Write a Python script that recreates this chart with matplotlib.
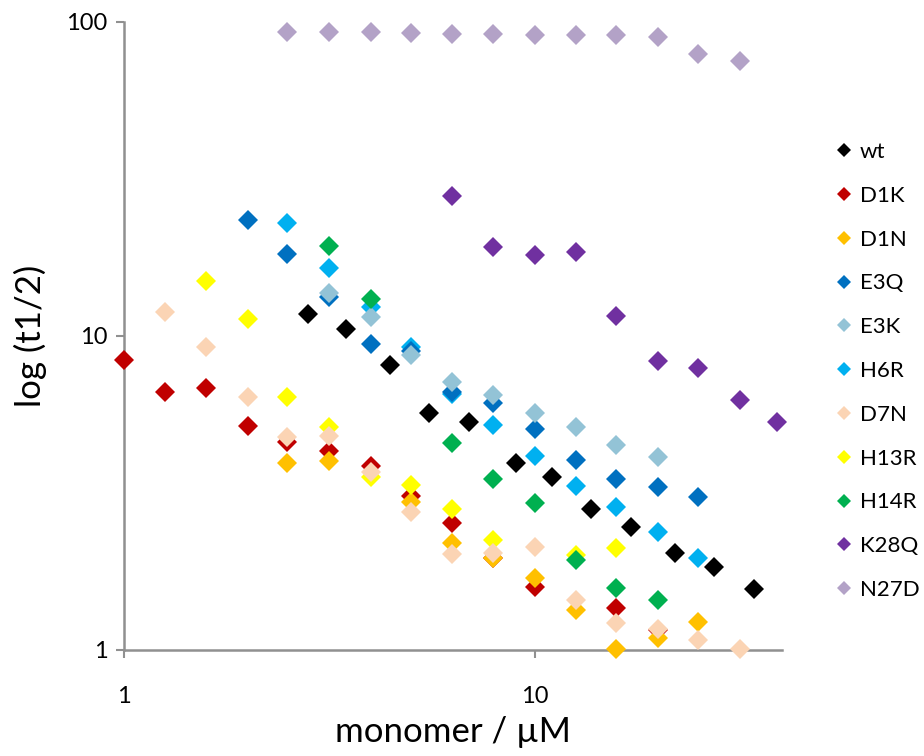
import matplotlib
matplotlib.use("Agg")
import matplotlib.pyplot as plt
from matplotlib.ticker import FixedLocator, FixedFormatter, NullLocator
from matplotlib.lines import Line2D

plt.rcParams['font.family'] = ['Lato', 'DejaVu Sans']

# ---- data (monomer concentration in uM, t1/2) ----
wt_x = [2.8, 3.48, 4.45, 5.53, 6.92, 8.99, 11.0, 13.7, 17.2, 22.0, 27.3, 34.2]
wt_y = [11.75, 10.5, 8.08, 5.69, 5.32, 3.94, 3.56, 2.81, 2.46, 2.04, 1.84, 1.56]

d1k_x = [1.0, 1.26, 1.58, 2.0, 2.5, 3.16, 4.0, 5.0, 6.3, 7.9, 10.0, 15.8, 20.0]
d1k_y = [8.39, 6.63, 6.83, 5.17, 4.60, 4.30, 3.86, 3.09, 2.54, 1.96, 1.59, 1.36, 1.16]

d1n_x = [2.5, 3.16, 5.0, 6.3, 7.9, 10.0, 12.6, 15.8, 20.0, 25.0]
d1n_y = [3.94, 4.00, 2.96, 2.19, 1.97, 1.69, 1.34, 1.01, 1.09, 1.23]

e3q_x = [2.0, 2.5, 3.16, 4.0, 5.0, 6.3, 7.9, 10.0, 12.6, 15.8, 20.0, 25.0]
e3q_y = [23.4, 18.2, 13.3, 9.43, 8.96, 6.63, 6.12, 5.06, 4.03, 3.50, 3.30, 3.07]

e3k_x = [3.16, 4.0, 5.0, 6.3, 7.9, 10.0, 12.6, 15.8, 20.0]
e3k_y = [13.7, 11.5, 8.7, 7.14, 6.49, 5.69, 5.13, 4.50, 4.12]

h6r_x = [2.5, 3.16, 4.0, 5.0, 6.3, 7.9, 10.0, 12.6, 15.8, 20.0, 25.0]
h6r_y = [22.9, 16.5, 12.4, 9.23, 6.54, 5.21, 4.15, 3.33, 2.85, 2.38, 1.96]

d7n_x = [1.26, 1.58, 2.0, 2.5, 3.16, 4.0, 5.0, 6.3, 7.9, 10.0, 12.6, 15.8, 20.0, 25.0, 31.6]
d7n_y = [11.9, 9.23, 6.40, 4.77, 4.80, 3.69, 2.75, 2.02, 2.04, 2.13, 1.44, 1.22, 1.17, 1.08, 1.01]

h13r_x = [1.58, 2.0, 2.5, 3.16, 4.0, 5.0, 6.3, 7.9, 12.6, 15.8]
h13r_y = [15.0, 11.3, 6.40, 5.13, 3.55, 3.35, 2.81, 2.24, 2.01, 2.11]

h14r_x = [3.16, 4.0, 6.3, 7.9, 10.0, 12.6, 15.8, 20.0]
h14r_y = [19.3, 13.1, 4.56, 3.50, 2.94, 1.94, 1.58, 1.44]

k28q_x = [6.3, 7.9, 10.0, 12.6, 15.8, 20.0, 25.0, 31.6, 39.0]
k28q_y = [27.9, 19.2, 18.1, 18.5, 11.6, 8.3, 7.91, 6.26, 5.32]

n27d_x = [2.5, 3.16, 4.0, 5.0, 6.3, 7.9, 10.0, 12.6, 15.8, 20.0, 25.0, 31.6]
n27d_y = [93.1, 93.1, 92.7, 92.0, 91.6, 91.6, 90.9, 90.9, 90.7, 89.6, 79.2, 75.1]

labels = ['wt', 'D1K', 'D1N', 'E3Q', 'E3K', 'H6R', 'D7N', 'H13R', 'H14R', 'K28Q', 'N27D']
colors = ['#000000', '#C00000', '#FFC000', '#0070C0', '#93C3D6', '#00B0F0',
          '#FBD4B4', '#FFFF00', '#00B050', '#7030A0', '#B3A2C7']
xs = [wt_x, d1k_x, d1n_x, e3q_x, e3k_x, h6r_x, d7n_x, h13r_x, h14r_x, k28q_x, n27d_x]
ys = [wt_y, d1k_y, d1n_y, e3q_y, e3k_y, h6r_y, d7n_y, h13r_y, h14r_y, k28q_y, n27d_y]
# drawing order (stacking) as in the original
draw_order = ['wt', 'D1K', 'D1N', 'H6R', 'E3Q', 'E3K', 'H13R', 'H14R', 'D7N', 'K28Q', 'N27D']

x_ticks = [1, 10]
x_ticklabels = ['1', '10']
y_ticks = [1, 10, 100]
y_ticklabels = ['1', '10', '100']

fig = plt.figure(figsize=(9.24, 7.56), dpi=100)
ax = fig.add_axes([124/924, 1-650/756, (782-124)/924, (650-22)/756])

handles = []
for lab, c, x, y in zip(labels, colors, xs, ys):
    z = 3 + draw_order.index(lab)
    ax.plot(x, y, linestyle='none', marker='D', markersize=10.5, color=c,
            markeredgewidth=0, zorder=z, clip_on=False)
    handles.append(Line2D([], [], linestyle='none', marker='D', markersize=7.5,
                          color=c, markeredgewidth=0))

ax.set_xscale('log')
ax.set_yscale('log')
ax.set_xlim(1, 40)
ax.set_ylim(1, 100)

ax.xaxis.set_major_locator(FixedLocator(x_ticks))
ax.xaxis.set_major_formatter(FixedFormatter(x_ticklabels))
ax.yaxis.set_major_locator(FixedLocator(y_ticks))
ax.yaxis.set_major_formatter(FixedFormatter(y_ticklabels))
ax.xaxis.set_minor_locator(NullLocator())
ax.yaxis.set_minor_locator(NullLocator())

axcol = '#909090'
for s in ['top', 'right']:
    ax.spines[s].set_visible(False)
for s in ['left', 'bottom']:
    ax.spines[s].set_color(axcol)
    ax.spines[s].set_linewidth(1.8)
ax.tick_params(axis='both', which='major', direction='out', length=6, width=1.5,
               color=axcol, labelsize=17, labelcolor='#000000')
ax.tick_params(axis='x', pad=20)
ax.tick_params(axis='y', pad=6)

ax.set_xlabel('monomer / µM', fontsize=25)
ax.xaxis.set_label_coords(0.5, (650 - 716) / 628)
ax.set_ylabel('log (t1/2)', fontsize=25, labelpad=14)

fig.legend(handles, labels, loc='upper left', bbox_to_anchor=(822/924, 1-131/756),
           frameon=False, fontsize=16, labelspacing=1.07, handletextpad=0.2,
           handlelength=1.0, borderpad=0)

fig.savefig('out.png', dpi=100, facecolor='white')
